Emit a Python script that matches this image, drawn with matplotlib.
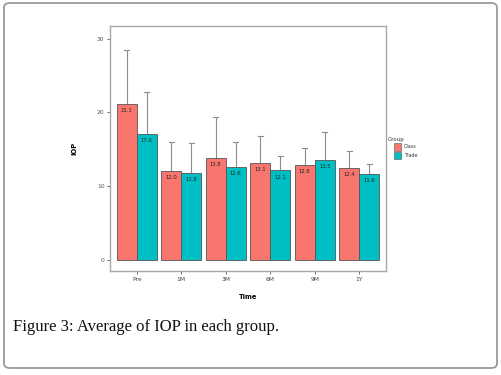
import matplotlib
matplotlib.use("Agg")
import matplotlib.pyplot as plt
import numpy as np
from matplotlib.patches import FancyBboxPatch, Rectangle

# ---- data ----
times = ["Pre", "1M", "3M", "6M", "9M", "1Y"]
groups = ["Class", "Trade"]
class_mean = [21.1, 12.0, 13.8, 13.1, 12.8, 12.4]
trade_mean = [17.0, 11.8, 12.6, 12.1, 13.5, 11.6]
class_upper = [28.4, 16.0, 19.4, 16.8, 15.1, 14.7]
trade_upper = [22.8, 15.8, 16.0, 14.0, 17.3, 12.9]
colors = ["#F8766D", "#00BFC4"]

fig = plt.figure(figsize=(5.02, 3.75), dpi=100)
ax = fig.add_axes([110/502, 1-271/375, 276/502, 245/375])

x = np.arange(1, len(times)+1)
w = 0.45
means = [class_mean, trade_mean]
uppers = [class_upper, trade_upper]
offsets = [-w/2, w/2]
for g in range(2):
    xs = x + offsets[g]
    # error bars (upper only)
    for xi, m, u in zip(xs, means[g], uppers[g]):
        ax.plot([xi, xi], [m, u], color="#8c8c8c", lw=0.8, zorder=1, solid_capstyle="butt")
        ax.plot([xi-0.06, xi+0.06], [u, u], color="#8c8c8c", lw=0.8, zorder=1)
    ax.bar(xs, means[g], width=w, color=colors[g], edgecolor="#555555",
           linewidth=0.6, zorder=2)
    for xi, m in zip(xs, means[g]):
        ax.text(xi, m-0.9, f"{m:.1f}", ha="center", va="center",
                fontsize=3.8, color="#222222", zorder=3)

ax.set_xlim(0.4, 6.6)
ax.set_ylim(-1.56, 31.7)
ax.set_xticks(x)
ax.set_xticklabels(times)
ax.set_yticks([0, 10, 20, 30])
ax.tick_params(axis="both", labelsize=4.3, colors="#555555", length=2, width=0.6, pad=2)
ax.tick_params(axis="x", labelcolor="#444444")
for sp in ax.spines.values():
    sp.set_color("#a8a8a8")
    sp.set_linewidth(1.0)
ax.set_xlabel("Time", fontsize=4.8, fontweight="bold", labelpad=9)
ax.set_ylabel("IOP", fontsize=4.8, fontweight="bold", labelpad=14)

# legend
fig.text(388/502, 1-140/375, "Group", fontsize=4, color="#333333", va="center", ha="left")
for i, g in enumerate(groups):
    yc = 147 + i*8.5
    fig.add_artist(Rectangle((394/502, 1-(yc+3.5)/375), 7.5/502, 7/375,
                             transform=fig.transFigure, facecolor=colors[i],
                             edgecolor="#555555", linewidth=0.4))
    fig.text(404/502, 1-yc/375, g, fontsize=3.5, color="#333333", va="center", ha="left")

# caption
fig.text(13/502, 1-327/375, "Figure 3: Average of IOP in each group.",
         fontsize=12, family="Liberation Serif", color="#111111", va="center", ha="left")

# outer rounded border
fig.add_artist(FancyBboxPatch((4/502, 1-368/375), 493/502, 365/375,
                              boxstyle="round,pad=0,rounding_size=0.012",
                              transform=fig.transFigure, facecolor="none",
                              edgecolor="#9a9a9a", linewidth=1.3))

fig.savefig("out.png", dpi=100)
